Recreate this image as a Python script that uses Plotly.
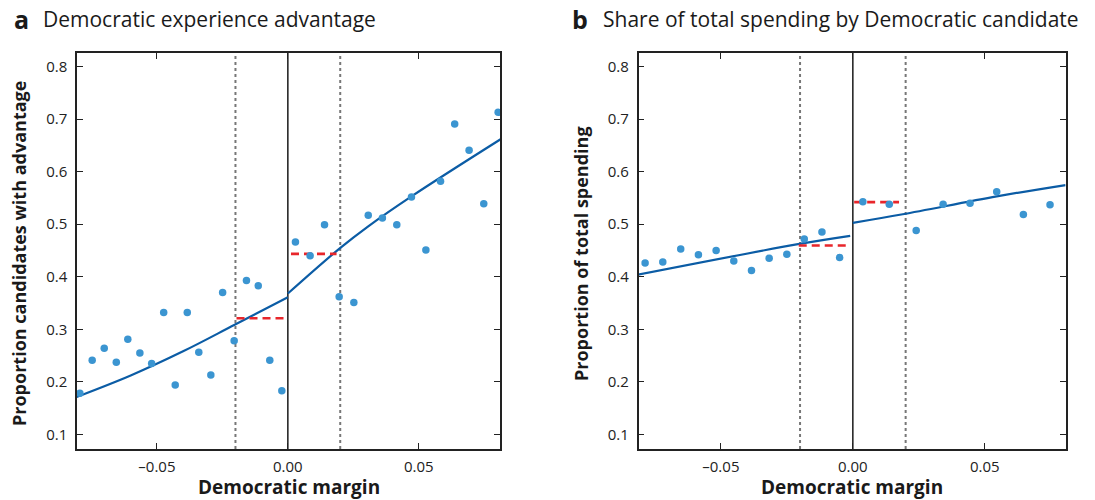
import plotly.graph_objects as go

# ---------------- data ----------------
a_left_x = [-0.0794, -0.0747, -0.0701, -0.0655, -0.0611, -0.0565, -0.0520, -0.0474, -0.0430,
            -0.0384, -0.0340, -0.0294, -0.0249, -0.0205, -0.0158, -0.0113, -0.0069, -0.0023]
a_left_y = [0.178, 0.241, 0.264, 0.237, 0.281, 0.255, 0.235, 0.332, 0.194,
            0.332, 0.256, 0.213, 0.370, 0.278, 0.393, 0.383, 0.241, 0.183]
a_right_x = [0.0029, 0.0085, 0.0140, 0.0196, 0.0252, 0.0307, 0.0361, 0.0416, 0.0472,
             0.0527, 0.0583, 0.0637, 0.0692, 0.0748, 0.0803]
a_right_y = [0.466, 0.440, 0.499, 0.362, 0.351, 0.517, 0.512, 0.499, 0.552,
             0.451, 0.582, 0.691, 0.641, 0.539, 0.713]

a_fit_left_x = [-0.0807, -0.0600, -0.0400, -0.0205, 0.0]
a_fit_left_y = [0.171, 0.212, 0.258, 0.308, 0.361]
a_fit_right_x = [0.0, 0.0198, 0.0307, 0.0472, 0.0813]
a_fit_right_y = [0.368, 0.454, 0.496, 0.553, 0.662]

a_mean_left_x = [-0.0196, -0.0012]
a_mean_left_y = [0.321, 0.321]
a_mean_right_x = [0.0012, 0.0186]
a_mean_right_y = [0.4435, 0.4435]

b_left_x = [-0.0787, -0.0720, -0.0652, -0.0585, -0.0518, -0.0451, -0.0384, -0.0317,
            -0.0250, -0.0184, -0.0117, -0.0050]
b_left_y = [0.426, 0.428, 0.453, 0.442, 0.450, 0.430, 0.412, 0.435,
            0.443, 0.472, 0.485, 0.4365]
b_right_x = [0.0038, 0.0138, 0.0240, 0.0342, 0.0444, 0.0545, 0.0646, 0.0747]
b_right_y = [0.543, 0.538, 0.488, 0.538, 0.540, 0.562, 0.5185, 0.537]

b_fit_left_x = [-0.0819, -0.0208, -0.0010]
b_fit_left_y = [0.4034, 0.4620, 0.4779]
b_fit_right_x = [0.0, 0.0189, 0.0545, 0.0806]
b_fit_right_y = [0.5027, 0.5190, 0.5530, 0.5746]

b_mean_left_x = [-0.0205, -0.0023]
b_mean_left_y = [0.4594, 0.4594]
b_mean_right_x = [0.0005, 0.0175]
b_mean_right_y = [0.542, 0.542]

cutoff_lines = [-0.02, 0.02]
x_tickvals = [-0.05, 0.0, 0.05]
x_ticktext = ["\u20130.05", "0.00", "0.05"]
y_tickvals = [0.1, 0.2, 0.3, 0.4, 0.5, 0.6, 0.7, 0.8]
y_ticktext = ["0.1", "0.2", "0.3", "0.4", "0.5", "0.6", "0.7", "0.8"]

# ---------------- style ----------------
FONT = "Open Sans"
DOT = "#3b95d1"
FIT = "#0b5ca5"
RED = "#e8262b"
W, H = 1095, 500

fig = go.Figure()


def add_panel(xa, ya, lx, ly, rx, ry, flx, fly, frx, fry, mlx, mly, mrx, mry):
    for fx, fy in ((flx, fly), (frx, fry)):
        fig.add_trace(go.Scatter(x=fx, y=fy, mode="lines", xaxis=xa, yaxis=ya,
                                 line=dict(color=FIT, width=2.2, shape="spline"),
                                 hoverinfo="skip", showlegend=False))
    for mx, my in ((mlx, mly), (mrx, mry)):
        fig.add_trace(go.Scatter(x=mx, y=my, mode="lines", xaxis=xa, yaxis=ya,
                                 line=dict(color=RED, width=2.6, dash="8px,5px"),
                                 hoverinfo="skip", showlegend=False))
    fig.add_trace(go.Scatter(x=lx + rx, y=ly + ry, mode="markers", xaxis=xa, yaxis=ya,
                             marker=dict(color=DOT, size=7.5), showlegend=False))


add_panel("x", "y", a_left_x, a_left_y, a_right_x, a_right_y,
          a_fit_left_x, a_fit_left_y, a_fit_right_x, a_fit_right_y,
          a_mean_left_x, a_mean_left_y, a_mean_right_x, a_mean_right_y)
add_panel("x2", "y2", b_left_x, b_left_y, b_right_x, b_right_y,
          b_fit_left_x, b_fit_left_y, b_fit_right_x, b_fit_right_y,
          b_mean_left_x, b_mean_left_y, b_mean_right_x, b_mean_right_y)

shapes = []
for xr, yr in (("x", "y domain"), ("x2", "y2 domain")):
    shapes.append(dict(type="line", xref=xr, yref=yr, x0=0, x1=0, y0=0, y1=1,
                       line=dict(color="#1a1a1a", width=1.5), layer="below"))
    for c in cutoff_lines:
        shapes.append(dict(type="line", xref=xr, yref=yr, x0=c, x1=c, y0=0, y1=1,
                           line=dict(color="#777777", width=2, dash="dot"), layer="below"))

axis_common = dict(showline=True, linecolor="#222222", linewidth=1.5, mirror="ticks",
                   ticks="inside", ticklen=6, tickwidth=1.3, tickcolor="#222222",
                   showgrid=False, zeroline=False,
                   tickfont=dict(family=FONT, size=15, color="#222222"))

y_top, y_bot = 53, 449
ydom = [1 - y_bot / H, 1 - y_top / H]

fig.update_layout(
    width=W, height=H,
    margin=dict(l=0, r=0, t=0, b=0),
    paper_bgcolor="white", plot_bgcolor="white",
    shapes=shapes,
    xaxis=dict(domain=[77 / W, 500 / W], range=[-0.0805, 0.081],
               tickvals=x_tickvals, ticktext=x_ticktext, anchor="y",
               ticklabelstandoff=3, **axis_common),
    yaxis=dict(domain=ydom, range=[0.072, 0.826],
               tickvals=y_tickvals, ticktext=y_ticktext, anchor="x",
               ticklabelstandoff=5, **axis_common),
    xaxis2=dict(domain=[638.5 / W, 1065.6 / W], range=[-0.0812, 0.0806],
                tickvals=x_tickvals, ticktext=x_ticktext, anchor="y2",
                ticklabelstandoff=3, **axis_common),
    yaxis2=dict(domain=ydom, range=[0.072, 0.826],
                tickvals=y_tickvals, ticktext=y_ticktext, anchor="x2",
                ticklabelstandoff=5, **axis_common),
)

ann = []
def label(text, x, y, size, bold=False, angle=0, xanchor="center", yanchor="middle"):
    ann.append(dict(text=("<b>%s</b>" % text) if bold else text, x=x / W, y=1 - y / H,
                    xref="paper", yref="paper", showarrow=False, textangle=angle,
                    xanchor=xanchor, yanchor=yanchor,
                    font=dict(family=FONT, size=size, color="#1a1a1a")))

label("a", 12, 19, 25, bold=True, xanchor="left")
label("Democratic experience advantage", 41, 19, 21, xanchor="left")
label("b", 570, 19, 25, bold=True, xanchor="left")
label("Share of total spending by Democratic candidate", 601, 19, 21, xanchor="left")
label("Democratic margin", 288.5, 487, 19, bold=True)
label("Democratic margin", 852, 487, 19, bold=True)
label("Proportion candidates with advantage", 19, 254, 18, bold=True, angle=-90)
label("Proportion of total spending", 581, 254, 18, bold=True, angle=-90)
fig.update_layout(annotations=ann)

fig.write_html("out.html")
